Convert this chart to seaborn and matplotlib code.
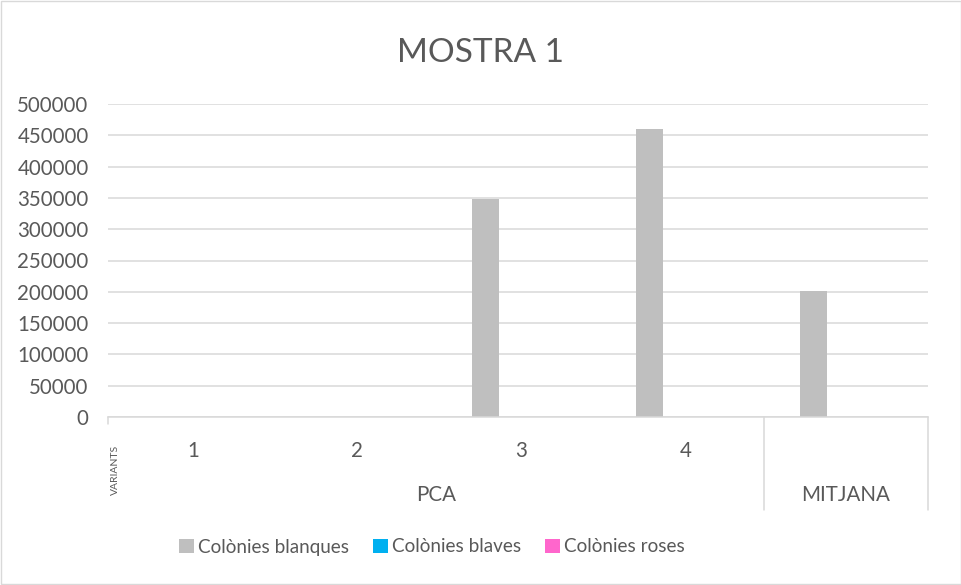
import matplotlib
matplotlib.use("Agg")
import matplotlib.pyplot as plt
import matplotlib.transforms as mtransforms
from matplotlib.patches import Rectangle
import seaborn as sns
import pandas as pd

# Chart data
categories = ["1", "2", "3", "4", "MITJ"]
category_labels = ["1", "2", "3", "4", ""]
blanques = [0, 0, 348000, 460000, 202000]
blaves = [0, 0, 0, 0, 0]
roses = [0, 0, 0, 0, 0]
series_names = ["Colònies blanques", "Colònies blaves", "Colònies roses"]
series_colors = ["#BFBFBF", "#00B0F0", "#FF66CC"]
yticks = [0, 50000, 100000, 150000, 200000, 250000, 300000, 350000, 400000, 450000, 500000]
group_labels = ["PCA", "MITJANA"]

rows = []
for name, vals in zip(series_names, [blanques, blaves, roses]):
    for cat, v in zip(categories, vals):
        rows.append({"cat": cat, "serie": name, "valor": v})
df = pd.DataFrame(rows)

sns.set_theme(style="white")
plt.rcParams["font.family"] = ["Lato", "DejaVu Sans"]
text_color = "#595959"
grid_color = "#D9D9D9"

fig = plt.figure(figsize=(9.62, 5.85), dpi=100)
ax = fig.add_axes([108 / 962, 1 - 417 / 585, (928 - 108) / 962, (417 - 104) / 585])

sns.barplot(data=df, x="cat", y="valor", hue="serie", order=categories,
            hue_order=series_names, palette=series_colors, width=0.6, gap=0.18,
            saturation=1, linewidth=0, ax=ax, legend=True)

ax.set_ylim(0, 500000)
ax.set_xlim(-0.5, 4.5)
ax.set_yticks(yticks)
ax.set_yticklabels([str(t) for t in yticks], color=text_color, fontsize=14.8)
ax.tick_params(axis="y", length=0, pad=14)
ax.yaxis.grid(True, color=grid_color, linewidth=1.1)
ax.set_axisbelow(True)
ax.set_xlabel("")
ax.set_ylabel("")
ax.set_xticks([])
for s in ["left", "right", "top"]:
    ax.spines[s].set_visible(False)
ax.spines["bottom"].set_color(grid_color)
ax.spines["bottom"].set_linewidth(1.1)

# Multi-level category axis
trans = mtransforms.blended_transform_factory(ax.transData, ax.transAxes)
ax_h = 417 - 104
def below(px):
    return -px / ax_h

for i, lab in enumerate(category_labels):
    ax.text(i + 0.02, below(34), lab, transform=trans, ha="center", va="center",
            color=text_color, fontsize=14.8)
ax.text(1.5, below(78), group_labels[0], transform=trans, ha="center", va="center",
        color=text_color, fontsize=14.8)
ax.text(4, below(78), group_labels[1], transform=trans, ha="center", va="center",
        color=text_color, fontsize=14.8)
ax.text(-0.455, below(53), "VARIANTS", transform=trans, ha="center", va="center",
        rotation=90, color=text_color, fontsize=7.5)

for x, depth in [(-0.5, 7), (3.5, 93), (4.5, 93)]:
    ax.plot([x, x], [0, below(depth)], transform=trans, color=grid_color,
            linewidth=1.1, clip_on=False)

fig.text(0.5, 1 - 53 / 585, "MOSTRA 1", ha="center", va="center",
         color=text_color, fontsize=24)

handles, labels = ax.get_legend_handles_labels()
ax.get_legend().remove()
fig.legend(handles, labels, loc="center", bbox_to_anchor=(432 / 962, 1 - 547 / 585),
           ncol=3, frameon=False, fontsize=13.6, handlelength=0.78, handleheight=0.78,
           handletextpad=0.2, columnspacing=1.3, labelcolor=text_color)

fig.patches.append(Rectangle((0.001, 0.001), 0.998, 0.998, transform=fig.transFigure,
                             fill=False, edgecolor=grid_color, linewidth=1))

fig.savefig("out.png", dpi=100)
